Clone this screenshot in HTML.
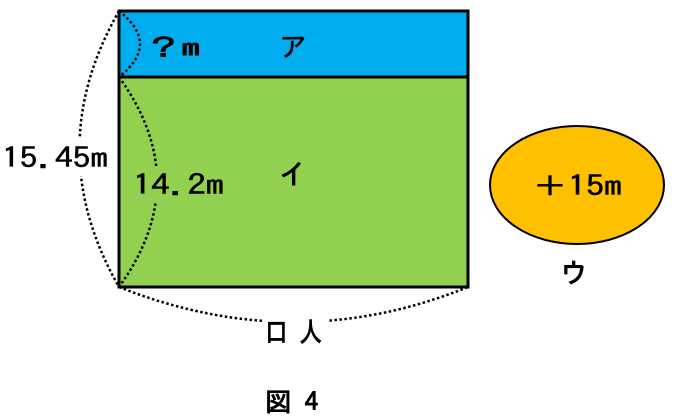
<!DOCTYPE html>
<html><head><meta charset="utf-8"><style>
html,body{margin:0;padding:0;background:#fff;}
svg{display:block;}
text{font-family:"IPAGothic","Noto Sans CJK JP",sans-serif;fill:#000;stroke:#000;stroke-width:0.5;}
.b{stroke-width:1;}
</style></head><body>
<svg width="674" height="417" viewBox="0 0 674 417" xmlns="http://www.w3.org/2000/svg">
<rect x="119" y="11" width="349" height="66" fill="#00AEEF" stroke="#000" stroke-width="3"/>
<rect x="119" y="77" width="349" height="210" fill="#92D050" stroke="#000" stroke-width="3"/>
<ellipse cx="577" cy="185" rx="87" ry="59" fill="#FFC000" stroke="#000" stroke-width="2"/>
<g fill="none" stroke="#000" stroke-width="2.5" stroke-dasharray="2.5 2.5">
<path d="M119 11 Q40 149 119 287"/>
<path d="M119 11 Q161 44 119 77"/>
<path d="M119 77 Q195 182 119 287"/>
<path d="M119 287 Q295 357 468 287"/>
</g>
<rect x="0" y="138" width="110" height="38" fill="#fff" stroke="none"/>
<rect x="132" y="166" width="96" height="36" fill="#92D050" stroke="none"/>
<rect x="262" y="312" width="66" height="40" fill="#fff" stroke="none"/>
<text x="2" y="168" font-size="28" textLength="106" lengthAdjust="spacingAndGlyphs">15.45m</text>
<text x="133" y="195" font-size="28" textLength="91" lengthAdjust="spacingAndGlyphs">14.2m</text>
<text class="b" x="145" y="56" font-size="24" textLength="55" lengthAdjust="spacingAndGlyphs">？m</text>
<text x="279" y="57" font-size="28">ア</text>
<text class="b" x="279" y="184" font-size="28">イ</text>
<text class="b" x="265" y="342" font-size="28" textLength="57" lengthAdjust="spacingAndGlyphs">口 人</text>
<text class="b" x="265" y="411" font-size="26" textLength="53" lengthAdjust="spacingAndGlyphs">図 4</text>
<text x="532" y="196" font-size="28" textLength="90" lengthAdjust="spacingAndGlyphs">＋15m</text>
<text class="b" x="560" y="283" font-size="28">ウ</text>
</svg>
</body></html>
